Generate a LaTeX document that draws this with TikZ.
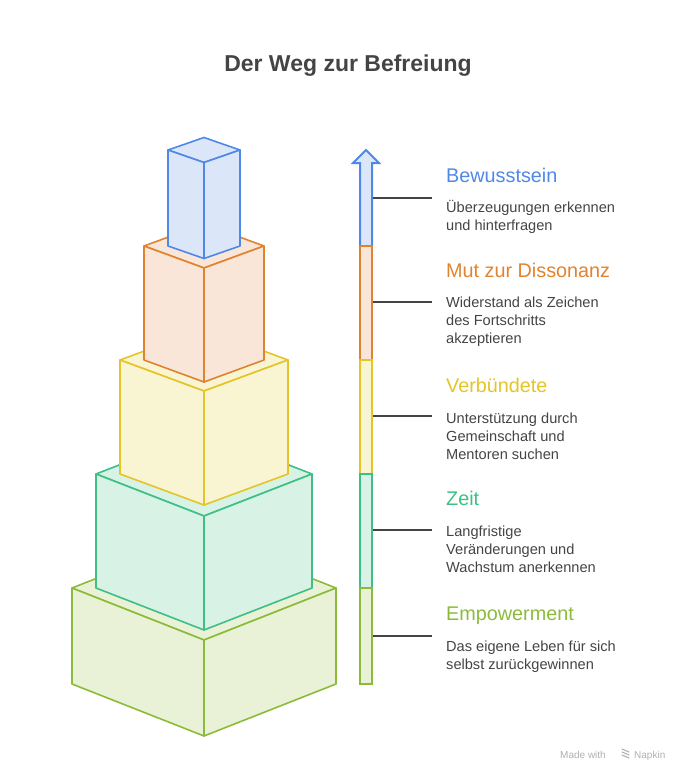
\documentclass[tikz,border=0pt]{standalone}
\usepackage{fontspec}
\setmainfont{Liberation Sans}
\definecolor{cblue}{HTML}{4F88E6}
\definecolor{fblue}{HTML}{DBE7F9}
\definecolor{corange}{HTML}{E0832E}
\definecolor{forange}{HTML}{F9E6D8}
\definecolor{cyellow}{HTML}{E3C52A}
\definecolor{fyellow}{HTML}{F9F5D3}
\definecolor{cgreen}{HTML}{3DBF85}
\definecolor{fgreen}{HTML}{D9F2E6}
\definecolor{clime}{HTML}{8CBB3A}
\definecolor{flime}{HTML}{E9F2D7}
\definecolor{tgray}{HTML}{444444}
\definecolor{wgray}{HTML}{B0B0B0}
\newcommand\drawcube[6]{% stroke fill w t d h
  \draw[cubeline,draw=#1,fill=#2] ({204-#3},#4) -- (204,{#4-#5}) -- ({204+#3},#4) -- (204,{#4+#5}) -- cycle;
  \draw[cubeline,draw=#1,fill=#2] ({204-#3},#4) -- (204,{#4+#5}) -- (204,{#4+#5+#6}) -- ({204-#3},{#4+#6}) -- cycle;
  \draw[cubeline,draw=#1,fill=#2] ({204+#3},#4) -- (204,{#4+#5}) -- (204,{#4+#5+#6}) -- ({204+#3},{#4+#6}) -- cycle;
}
\tikzset{
  cubeline/.style={line width=1.6pt,line join=round},
  barline/.style={line width=2pt,line join=miter},
  conn/.style={draw=tgray,line width=1.6pt},
  heading/.style={anchor=base west,inner sep=0pt,font=\fontsize{19.8}{22}\selectfont},
  desc/.style={anchor=base west,inner sep=0pt,align=left,text=tgray,font=\fontsize{14.6}{18}\selectfont},
  wmark/.style={inner sep=0pt,text=wgray,font=\fontsize{10}{12}\selectfont},
}
\begin{document}
\begin{tikzpicture}[x=1pt,y=-1pt]
\useasboundingbox (0,0) rectangle (696,784);
% title
\node[inner sep=0pt,anchor=base,text=tgray,font=\bfseries\fontsize{23}{26}\selectfont] (title) at (348,71) {Der Weg zur Befreiung};
% cubes, bottom to top
\drawcube{clime}{flime}{132}{588}{52}{96}
\drawcube{cgreen}{fgreen}{108}{474}{42}{114}
\drawcube{cyellow}{fyellow}{84}{360}{31}{114}
\drawcube{corange}{forange}{60}{246}{22}{114}
\drawcube{cblue}{fblue}{36}{150}{12.5}{96}
% bar
\draw[barline,draw=cblue,fill=fblue] (360,246) -- (360,163) -- (353,163) -- (366,150) -- (379,163) -- (372,163) -- (372,246) -- cycle;
\draw[barline,draw=corange,fill=forange] (360,246) rectangle (372,360);
\draw[barline,draw=cyellow,fill=fyellow] (360,360) rectangle (372,474);
\draw[barline,draw=cgreen,fill=fgreen] (360,474) rectangle (372,588);
\draw[barline,draw=clime,fill=flime] (360,588) rectangle (372,684);
% connector coordinates
\coordinate (s1) at (373,198); \coordinate (e1) at (432,198);
\coordinate (s2) at (373,302); \coordinate (e2) at (432,302);
\coordinate (s3) at (373,416); \coordinate (e3) at (432,416);
\coordinate (s4) at (373,530); \coordinate (e4) at (432,530);
\coordinate (s5) at (373,636); \coordinate (e5) at (432,636);
\foreach \i in {1,...,5} {\draw[conn] (s\i) -- (e\i);}
% texts (desc anchored at baseline of last line)
\node[heading,text=cblue] (h1) at (446,182) {Bewusstsein};
\node[desc] (d1) at (446,230.5) {Überzeugungen erkennen\\und hinterfragen};
\node[heading,text=corange] (h2) at (446,277) {Mut zur Dissonanz};
\node[desc] (d2) at (446,343.5) {Widerstand als Zeichen\\des Fortschritts\\akzeptieren};
\node[heading,text=cyellow] (h3) at (446,392) {Verbündete};
\node[desc] (d3) at (446,459) {Unterstützung durch\\Gemeinschaft und\\Mentoren suchen};
\node[heading,text=cgreen] (h4) at (446,505.5) {Zeit};
\node[desc] (d4) at (446,572.5) {Langfristige\\Veränderungen und\\Wachstum anerkennen};
\node[heading,text=clime] (h5) at (446,620) {Empowerment};
\node[desc] (d5) at (446,669) {Das eigene Leben für sich\\selbst zurückgewinnen};
% watermark
\node[wmark,anchor=base east] (wm1) at (606,758) {Made with};
\node[wmark,anchor=base west] (wm2) at (634,758) {Napkin};
\foreach \dy in {0,3,6} {\draw[wgray,line width=1.1pt,line cap=round] (622,{749+\dy}) -- (629,{752+\dy});}
\end{tikzpicture}
\end{document}
